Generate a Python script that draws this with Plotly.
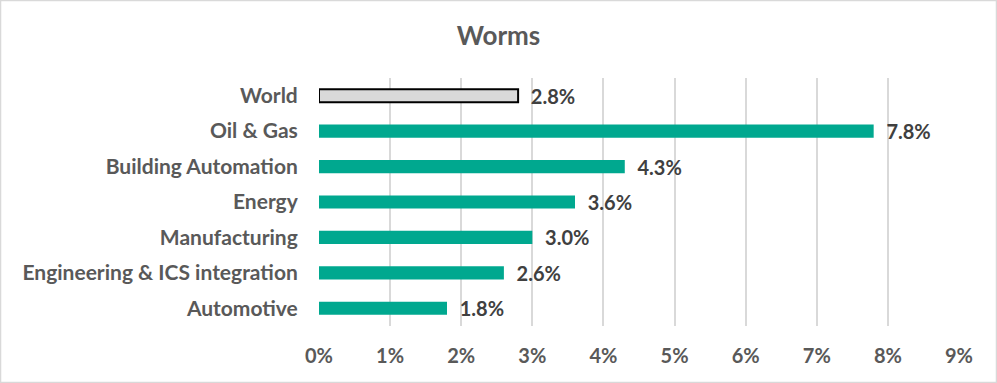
import plotly.graph_objects as go

categories = ["World", "Oil & Gas", "Building Automation", "Energy", "Manufacturing",
              "Engineering & ICS integration", "Automotive"]
values = [2.8, 7.8, 4.3, 3.6, 3.0, 2.6, 1.8]
tick_vals = [0, 1, 2, 3, 4, 5, 6, 7, 8, 9]
tick_text = [f"{v}%" for v in tick_vals]
title = "Worms"

colors = ["#D9D9D9"] + ["#00A88F"] * (len(categories) - 1)
line_colors = ["#000000"] + ["#00A88F"] * (len(categories) - 1)
line_widths = [2] + [0] * (len(categories) - 1)

W, H = 997, 383
L, R, T, B = 319, 38, 78, 57
FONT = "Lato"

fig = go.Figure()
fig.add_trace(go.Bar(
    y=categories, x=values, orientation="h",
    marker=dict(color=colors, line=dict(color=line_colors, width=line_widths)),
    width=0.37,
    text=[f"{v:.1f}%" for v in values],
    texttemplate="  %{text}",
    textposition="outside",
    constraintext="none",
    cliponaxis=False,
    textfont=dict(family=FONT, size=20, color="#404040", weight="bold"),
))

fig.update_layout(
    width=W, height=H,
    margin=dict(l=L, r=R, t=T, b=B),
    paper_bgcolor="white", plot_bgcolor="white",
    title=dict(text=title, x=0.5, xanchor="center", y=1 - 36 / H, yanchor="middle",
               font=dict(family=FONT, size=26, color="#595959", weight="bold")),
    showlegend=False,
    xaxis=dict(range=[0, 9], tickvals=tick_vals, ticktext=tick_text,
               showgrid=True, gridcolor="#D9D9D9", gridwidth=2, zeroline=False,
               showline=False, ticks="outside", ticklen=12, tickcolor="rgba(0,0,0,0)",
               tickfont=dict(family=FONT, size=20, color="#595959", weight="bold")),
    yaxis=dict(autorange="reversed", showgrid=False, zeroline=False, showline=False,
               ticks="outside", ticklen=16, tickcolor="rgba(0,0,0,0)",
               tickfont=dict(family=FONT, size=21, color="#595959", weight="bold")),
    shapes=[dict(type="rect", xref="paper", yref="paper",
                 x0=-L / (W - L - R) + 0.0008, x1=1 + R / (W - L - R) - 0.0008,
                 y0=-B / (H - T - B) + 0.002, y1=1 + T / (H - T - B) - 0.002,
                 line=dict(color="#D9D9D9", width=1.5), layer="below")],
)

fig.write_html("out.html", config={"displayModeBar": False},
               post_script="document.body.style.margin='0px';")
